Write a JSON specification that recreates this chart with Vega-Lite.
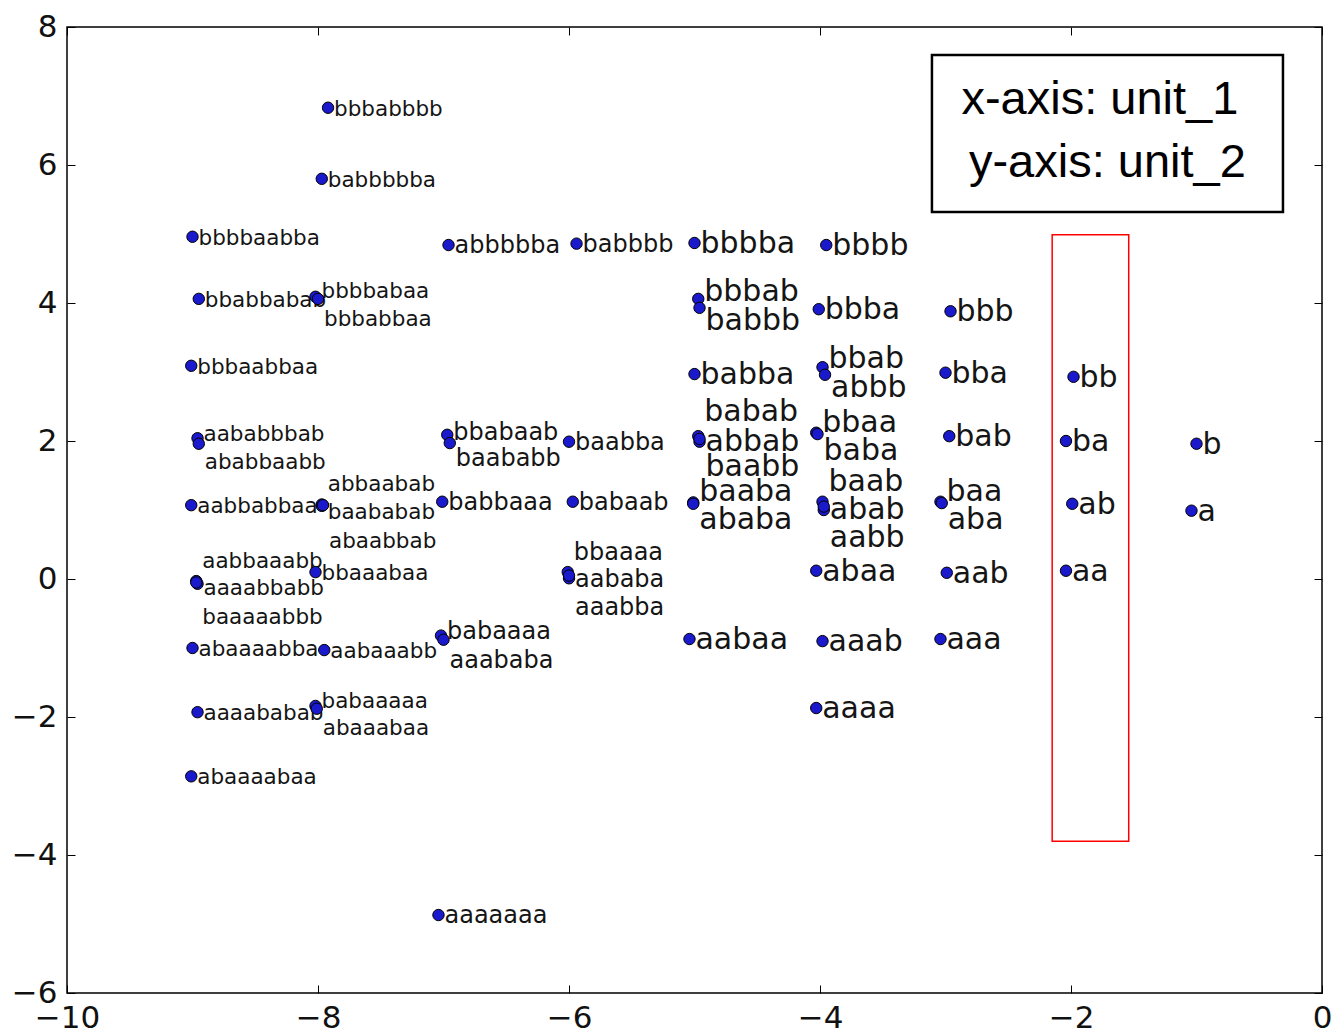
{
  "$schema": "https://vega.github.io/schema/vega-lite/v6.json",
  "width": 1255,
  "height": 966,
  "autosize": {"type": "none"},
  "padding": {"left": 67, "top": 27, "right": 9, "bottom": 43},
  "background": "white",
  "config": {
    "view": {"stroke": "black", "strokeWidth": 1.5},
    "font": "DejaVu Sans",
    "axis": {
      "grid": false,
      "domain": false,
      "ticks": true,
      "tickSize": -8,
      "tickColor": "black",
      "tickWidth": 1,
      "labelFont": "DejaVu Sans",
      "labelFontSize": 31,
      "labelColor": "#111111",
      "labelFlush": false,
      "labelOverlap": false,
      "title": null
    }
  },
  "datasets": {
    "points": [
      {"label": "bbbabbbb", "x": -7.92, "y": 6.83, "tx": -7.92, "ty": 6.83},
      {"label": "babbbbba", "x": -7.97, "y": 5.80, "tx": -7.97, "ty": 5.80},
      {"label": "bbbbaabba", "x": -9.0, "y": 4.96, "tx": -9.0, "ty": 4.96},
      {"label": "bbabbabab", "x": -8.95, "y": 4.06, "tx": -8.95, "ty": 4.06},
      {"label": "bbbaabbaa", "x": -9.01, "y": 3.09, "tx": -9.01, "ty": 3.09},
      {"label": "aabbabbaa", "x": -9.01, "y": 1.07, "tx": -9.01, "ty": 1.07},
      {"label": "abaaaabba", "x": -9.0, "y": -1.0, "tx": -9.0, "ty": -1.0},
      {"label": "aaaababab", "x": -8.96, "y": -1.93, "tx": -8.96, "ty": -1.93},
      {"label": "abaaaabaa", "x": -9.01, "y": -2.86, "tx": -9.01, "ty": -2.86},
      {"label": "bbaaabaa", "x": -8.02, "y": 0.10, "tx": -8.02, "ty": 0.10},
      {"label": "aabaaabb", "x": -7.95, "y": -1.03, "tx": -7.95, "ty": -1.03},
      {"label": "abbbbba", "x": -6.96, "y": 4.84, "tx": -6.96, "ty": 4.84},
      {"label": "babbaaa", "x": -7.01, "y": 1.12, "tx": -7.01, "ty": 1.12},
      {"label": "aaaaaaa", "x": -7.04, "y": -4.87, "tx": -7.04, "ty": -4.87},
      {"label": "babbbb", "x": -5.94, "y": 4.86, "tx": -5.94, "ty": 4.86},
      {"label": "baabba", "x": -6.0, "y": 1.99, "tx": -6.0, "ty": 1.99},
      {"label": "babaab", "x": -5.97, "y": 1.12, "tx": -5.97, "ty": 1.12},
      {"label": "bbbba", "x": -5.0, "y": 4.87, "tx": -5.0, "ty": 4.87},
      {"label": "babba", "x": -5.0, "y": 2.97, "tx": -5.0, "ty": 2.97},
      {"label": "aabaa", "x": -5.04, "y": -0.87, "tx": -5.04, "ty": -0.87},
      {"label": "bbbb", "x": -3.95, "y": 4.84, "tx": -3.95, "ty": 4.84},
      {"label": "bbba", "x": -4.01, "y": 3.91, "tx": -4.01, "ty": 3.91},
      {"label": "abaa", "x": -4.03, "y": 0.12, "tx": -4.03, "ty": 0.12},
      {"label": "aaab", "x": -3.98, "y": -0.90, "tx": -3.98, "ty": -0.90},
      {"label": "aaaa", "x": -4.03, "y": -1.87, "tx": -4.03, "ty": -1.87},
      {"label": "bbb", "x": -2.96, "y": 3.88, "tx": -2.96, "ty": 3.88},
      {"label": "bba", "x": -3.0, "y": 2.99, "tx": -3.0, "ty": 2.99},
      {"label": "bab", "x": -2.97, "y": 2.07, "tx": -2.97, "ty": 2.07},
      {"label": "aab", "x": -2.99, "y": 0.09, "tx": -2.99, "ty": 0.09},
      {"label": "aaa", "x": -3.04, "y": -0.87, "tx": -3.04, "ty": -0.87},
      {"label": "bb", "x": -1.98, "y": 2.93, "tx": -1.98, "ty": 2.93},
      {"label": "ba", "x": -2.04, "y": 2.0, "tx": -2.04, "ty": 2.0},
      {"label": "ab", "x": -1.99, "y": 1.09, "tx": -1.99, "ty": 1.09},
      {"label": "aa", "x": -2.04, "y": 0.12, "tx": -2.04, "ty": 0.12},
      {"label": "b", "x": -1.0, "y": 1.96, "tx": -1.0, "ty": 1.96},
      {"label": "a", "x": -1.04, "y": 0.99, "tx": -1.04, "ty": 0.99},
      {"label": "bbbbabaa", "x": -8.02, "y": 4.09, "tx": -8.02, "ty": 4.19},
      {"label": "bbbabbaa", "x": -8.0, "y": 4.06, "tx": -8.0, "ty": 3.78},
      {"label": "aababbbab", "x": -8.96, "y": 2.04, "tx": -8.96, "ty": 2.12},
      {"label": "ababbaabb", "x": -8.95, "y": 1.96, "tx": -8.95, "ty": 1.71},
      {"label": "abbaabab", "x": -7.97, "y": 1.08, "tx": -7.97, "ty": 1.39},
      {"label": "baababab", "x": -7.97, "y": 1.06, "tx": -7.97, "ty": 0.99},
      {"label": "abaabbab", "x": -7.96, "y": 1.07, "tx": -7.96, "ty": 0.57},
      {"label": "aabbaaabb", "x": -8.97, "y": -0.03, "tx": -8.97, "ty": 0.28},
      {"label": "aaaabbabb", "x": -8.96, "y": -0.07, "tx": -8.96, "ty": -0.12},
      {"label": "baaaaabbb", "x": -8.97, "y": -0.05, "tx": -8.97, "ty": -0.54},
      {"label": "babaaaaa", "x": -8.02, "y": -1.84, "tx": -8.02, "ty": -1.75},
      {"label": "abaaabaa", "x": -8.01, "y": -1.88, "tx": -8.01, "ty": -2.14},
      {"label": "bbabaab", "x": -6.97, "y": 2.09, "tx": -6.97, "ty": 2.13},
      {"label": "baababb", "x": -6.95, "y": 1.97, "tx": -6.95, "ty": 1.75},
      {"label": "babaaaa", "x": -7.02, "y": -0.82, "tx": -7.02, "ty": -0.75},
      {"label": "aaababa", "x": -7.0, "y": -0.88, "tx": -7.0, "ty": -1.17},
      {"label": "bbaaaa", "x": -6.01, "y": 0.10, "tx": -6.01, "ty": 0.39},
      {"label": "aababa", "x": -6.0, "y": 0.01, "tx": -6.0, "ty": 0.0},
      {"label": "aaabba", "x": -6.0, "y": 0.05, "tx": -6.0, "ty": -0.41},
      {"label": "bbbab", "x": -4.97, "y": 4.06, "tx": -4.97, "ty": 4.17},
      {"label": "babbb", "x": -4.96, "y": 3.93, "tx": -4.96, "ty": 3.75},
      {"label": "babab", "x": -4.97, "y": 2.07, "tx": -4.97, "ty": 2.43},
      {"label": "abbab", "x": -4.96, "y": 1.99, "tx": -4.96, "ty": 2.0},
      {"label": "baabb", "x": -4.96, "y": 2.03, "tx": -4.96, "ty": 1.64},
      {"label": "baaba", "x": -5.01, "y": 1.11, "tx": -5.01, "ty": 1.28},
      {"label": "ababa", "x": -5.01, "y": 1.09, "tx": -5.01, "ty": 0.87},
      {"label": "bbab", "x": -3.98, "y": 3.07, "tx": -3.98, "ty": 3.20},
      {"label": "abbb", "x": -3.96, "y": 2.96, "tx": -3.96, "ty": 2.78},
      {"label": "bbaa", "x": -4.03, "y": 2.12, "tx": -4.03, "ty": 2.28},
      {"label": "baba", "x": -4.02, "y": 2.10, "tx": -4.02, "ty": 1.87},
      {"label": "baab", "x": -3.98, "y": 1.12, "tx": -3.98, "ty": 1.42},
      {"label": "abab", "x": -3.97, "y": 1.0, "tx": -3.97, "ty": 1.01},
      {"label": "aabb", "x": -3.97, "y": 1.05, "tx": -3.97, "ty": 0.61},
      {"label": "baa", "x": -3.04, "y": 1.12, "tx": -3.04, "ty": 1.28},
      {"label": "aba", "x": -3.03, "y": 1.10, "tx": -3.03, "ty": 0.87}
    ],
    "redbox": [{"x1": -2.15, "x2": -1.54, "y1": -3.8, "y2": 4.99}],
    "legendbox": [{"x1": -3.108, "x2": -0.311, "y1": 5.32, "y2": 7.594}],
    "legendtext": [
      {"t": "x-axis: unit_1", "x": -1.77, "y": 6.94},
      {"t": "y-axis: unit_2", "x": -1.71, "y": 6.03}
    ]
  },
  "layer": [
    {
      "data": {"name": "redbox"},
      "mark": {"type": "rect", "filled": false, "stroke": "#ff0000", "strokeWidth": 1.5},
      "encoding": {
        "x": {"field": "x1", "type": "quantitative", "scale": {"domain": [-10, 0], "nice": false, "zero": false}, "axis": null},
        "x2": {"field": "x2"},
        "y": {"field": "y1", "type": "quantitative", "scale": {"domain": [-6, 8], "nice": false, "zero": false}, "axis": null},
        "y2": {"field": "y2"}
      }
    },
    {
      "data": {"name": "points"},
      "transform": [{"filter": "length(datum.label) <= 5"}],
      "mark": {"type": "text", "align": "left", "baseline": "middle", "dx": 6, "dy": 1, "fontSize": 30, "font": "DejaVu Sans", "color": "#151515"},
      "encoding": {
        "x": {"field": "tx", "type": "quantitative", "scale": {"domain": [-10, 0], "nice": false, "zero": false}, "axis": null},
        "y": {"field": "ty", "type": "quantitative", "scale": {"domain": [-6, 8], "nice": false, "zero": false}, "axis": null},
        "text": {"field": "label"}
      }
    },
    {
      "data": {"name": "points"},
      "transform": [{"filter": "length(datum.label) >= 6 && length(datum.label) <= 7"}],
      "mark": {"type": "text", "align": "left", "baseline": "middle", "dx": 6, "dy": 1, "fontSize": 24, "font": "DejaVu Sans", "color": "#151515"},
      "encoding": {
        "x": {"field": "tx", "type": "quantitative", "scale": {"domain": [-10, 0], "nice": false, "zero": false}, "axis": null},
        "y": {"field": "ty", "type": "quantitative", "scale": {"domain": [-6, 8], "nice": false, "zero": false}, "axis": null},
        "text": {"field": "label"}
      }
    },
    {
      "data": {"name": "points"},
      "transform": [{"filter": "length(datum.label) >= 8"}],
      "mark": {"type": "text", "align": "left", "baseline": "middle", "dx": 6, "dy": 2, "fontSize": 21.5, "font": "DejaVu Sans", "color": "#151515"},
      "encoding": {
        "x": {"field": "tx", "type": "quantitative", "scale": {"domain": [-10, 0], "nice": false, "zero": false}, "axis": null},
        "y": {"field": "ty", "type": "quantitative", "scale": {"domain": [-6, 8], "nice": false, "zero": false}, "axis": null},
        "text": {"field": "label"}
      }
    },
    {
      "data": {"name": "points"},
      "mark": {"type": "point", "filled": true, "shape": "circle", "size": 130, "fill": "#1a1acc", "stroke": "black", "strokeWidth": 1, "opacity": 1},
      "encoding": {
        "x": {"field": "x", "type": "quantitative", "scale": {"domain": [-10, 0], "nice": false, "zero": false},
              "axis": {"orient": "bottom", "values": [-10, -8, -6, -4, -2, 0], "format": "d", "labelPadding": 18}},
        "y": {"field": "y", "type": "quantitative", "scale": {"domain": [-6, 8], "nice": false, "zero": false},
              "axis": {"orient": "left", "values": [-6, -4, -2, 0, 2, 4, 6, 8], "format": "d", "labelPadding": 18}}
      }
    },
    {
      "data": {"name": "legendbox"},
      "mark": {"type": "rect", "fill": "white", "stroke": "black", "strokeWidth": 2.5},
      "encoding": {
        "x": {"field": "x1", "type": "quantitative", "scale": {"domain": [-10, 0], "nice": false, "zero": false},
              "axis": {"orient": "top", "values": [-10, -8, -6, -4, -2, 0], "labels": false}},
        "x2": {"field": "x2"},
        "y": {"field": "y1", "type": "quantitative", "scale": {"domain": [-6, 8], "nice": false, "zero": false},
              "axis": {"orient": "right", "values": [-6, -4, -2, 0, 2, 4, 6, 8], "labels": false}},
        "y2": {"field": "y2"}
      }
    },
    {
      "data": {"name": "legendtext"},
      "mark": {"type": "text", "align": "center", "baseline": "middle", "fontSize": 47, "font": "Liberation Sans", "color": "black"},
      "encoding": {
        "x": {"field": "x", "type": "quantitative", "scale": {"domain": [-10, 0], "nice": false, "zero": false}, "axis": null},
        "y": {"field": "y", "type": "quantitative", "scale": {"domain": [-6, 8], "nice": false, "zero": false}, "axis": null},
        "text": {"field": "t"}
      }
    }
  ],
  "resolve": {"axis": {"x": "independent", "y": "independent"}}
}
